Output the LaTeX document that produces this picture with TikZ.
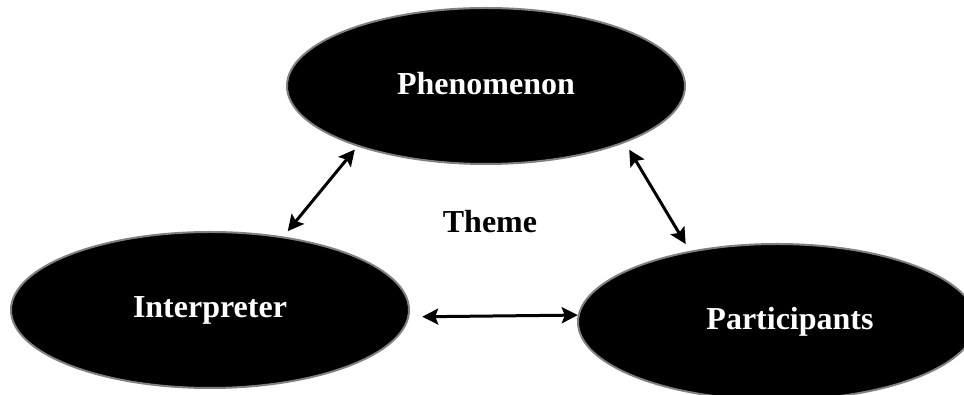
\documentclass[tikz,border=0pt]{standalone}
\usepackage{fontspec}
\setmainfont{Liberation Serif}
\usetikzlibrary{arrows.meta,shapes.geometric}
\tikzset{
    %Define standard arrow tip
    >={Stealth[length=16pt,width=16pt,inset=3pt]},
    %Define style for ellipses
    blob/.style={
           ellipse,
           fill=black,
           draw=black!50, line width=2pt,
           minimum width=398pt,
           minimum height=156pt,
           inner sep=0pt, outer sep=0pt,
           text=white,
           font=\fontsize{32}{38}\selectfont\bfseries},
    % Define arrow style
    link/.style={
           <->,
           line width=3pt}
}
\begin{document}
\begin{tikzpicture}[x=1pt,y=1pt]
\useasboundingbox (0,0) rectangle (964,395);

\node[blob](phen) at (486,309){\raisebox{6pt}{Phenomenon}};
\node[blob](interp) at (210,85){\raisebox{3pt}{Interpreter}};
\node[blob](part) at (777,73){\hspace*{26pt}\raisebox{2pt}{Participants}};
\node[font=\fontsize{32}{38}\selectfont\bfseries](theme) at (490,173){Theme};

\draw[link, shorten <=8pt, shorten >=5pt] (interp.45.5) -- (phen.205.6);
\draw[link, shorten <=9pt, shorten >=9pt] (phen.338.5) -- (part.141.4);
\draw[link, shorten <=14pt, shorten >=1pt] (interp.358) -- (part.178.5);

\end{tikzpicture}
\end{document}
